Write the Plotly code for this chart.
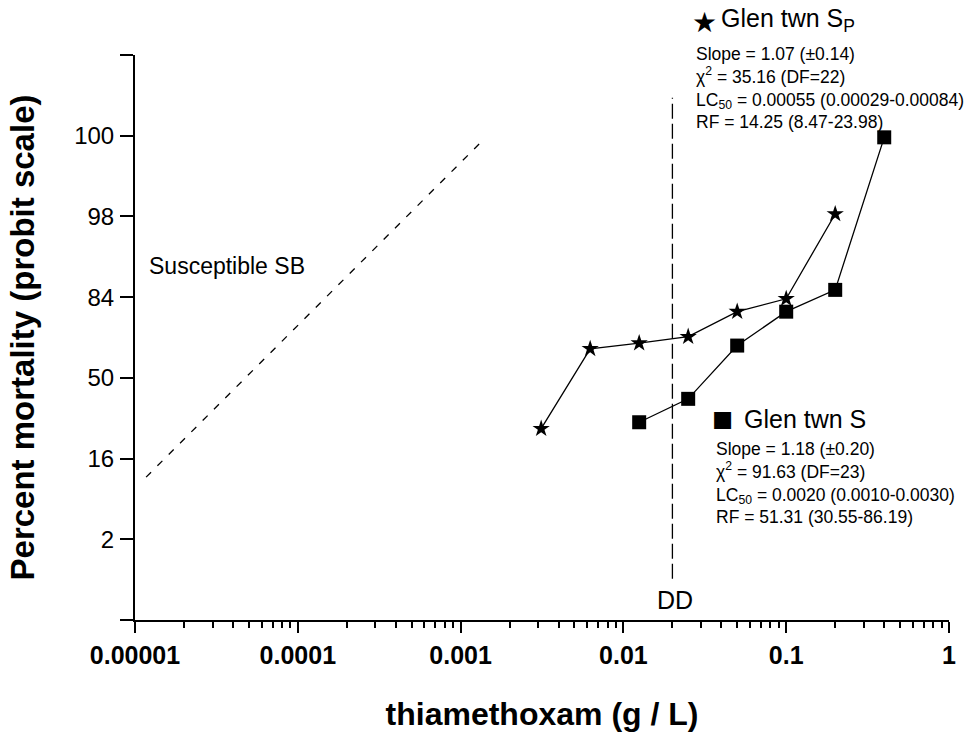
import plotly.graph_objects as go

# ---------------- data (probit units on y: 3=2%, 4=16%, 5=50%, 6=84%, 7=98%, 8=100%) -------------
sp_dose = [0.003125, 0.00625, 0.0125, 0.025, 0.05, 0.1, 0.2]
sp_probit = [4.37, 5.36, 5.43, 5.51, 5.82, 5.98, 7.03]

s_dose = [0.0125, 0.025, 0.05, 0.1, 0.2, 0.4]
s_probit = [4.45, 4.74, 5.40, 5.82, 6.09, 7.98]

sb_dose = [1.17e-5, 0.00135]
sb_probit = [3.77, 7.93]

dd_dose = [0.02, 0.02]
dd_probit = [2.51, 8.47]

y_tickvals = [2, 3, 4, 5, 6, 7, 8, 9]
y_ticktext = ["", "2", "16", "50", "84", "98", "100", ""]

x_tickvals = [1e-5, 1e-4, 1e-3, 1e-2, 1e-1, 1]
x_ticktext = ["0.00001", "0.0001", "0.001", "0.01", "0.1", "1"]
x_minor = [m * 10.0 ** e for e in range(-5, 0) for m in range(2, 10)]

FONT = "Liberation Sans, Arial, sans-serif"

# plot area in pixels
L, R, T, B = 135, 949, 55, 620
W, H = 977, 732


def px(xp):
    return (xp - L) / (R - L)


def py(yp):
    return (B - yp) / (B - T)


fig = go.Figure()

fig.add_trace(go.Scatter(x=sb_dose, y=sb_probit, mode="lines",
                         line=dict(color="black", width=1.3, dash="7px,9px"),
                         showlegend=False, hoverinfo="skip"))
fig.add_trace(go.Scatter(x=dd_dose, y=dd_probit, mode="lines",
                         line=dict(color="black", width=1.3, dash="15px,5px"),
                         showlegend=False, hoverinfo="skip"))
fig.add_trace(go.Scatter(x=sp_dose, y=sp_probit, mode="lines+markers", name="Glen twn SP",
                         line=dict(color="black", width=1.3),
                         marker=dict(symbol="star", size=13, color="black"),
                         showlegend=False))
fig.add_trace(go.Scatter(x=s_dose, y=s_probit, mode="lines+markers", name="Glen twn S",
                         line=dict(color="black", width=1.3),
                         marker=dict(symbol="square", size=14, color="black"),
                         showlegend=False))

annotations = [
    # top block
    dict(x=px(704), y=py(22), text="★", font=dict(size=28)),
    dict(x=px(719), y=py(38), text="Glen twn S<sub>P</sub>", xanchor="left", yanchor="bottom",
         font=dict(size=25)),
    dict(x=px(694), y=py(42), text="Slope = 1.07 (±0.14)<br>χ<sup>2</sup> = 35.16 (DF=22)<br>"
         "LC<sub>50</sub> = 0.00055 (0.00029-0.00084)<br>RF = 14.25 (8.47-23.98)",
         xanchor="left", yanchor="top", align="left", font=dict(size=17.5)),
    # bottom block
    dict(x=px(722), y=py(418), text="■", font=dict(size=35)),
    dict(x=px(742), y=py(419), text="Glen twn S", xanchor="left", yanchor="middle",
         font=dict(size=25)),
    dict(x=px(714), y=py(437), text="Slope = 1.18 (±0.20)<br>χ<sup>2</sup> = 91.63 (DF=23)<br>"
         "LC<sub>50</sub> = 0.0020 (0.0010-0.0030)<br>RF = 51.31 (30.55-86.19)",
         xanchor="left", yanchor="top", align="left", font=dict(size=17.5)),
    # labels
    dict(x=px(147), y=py(265.5), text="Susceptible SB", xanchor="left", font=dict(size=23)),
    dict(x=px(674.5), y=py(600), text="DD", font=dict(size=25)),
]
for a in annotations:
    a.setdefault("xanchor", "center")
    a.setdefault("yanchor", "middle")
    a["xref"] = "paper"
    a["yref"] = "paper"
    a["showarrow"] = False
    a["font"] = dict(family=FONT, color="black", **a["font"])
    fig.add_annotation(**a)

fig.update_layout(
    width=W, height=H,
    margin=dict(l=L, r=W - R, t=T, b=H - B, pad=0, autoexpand=False),
    paper_bgcolor="white", plot_bgcolor="white",
    font=dict(family=FONT, color="black"),
    showlegend=False,
)

fig.update_xaxes(
    type="log", range=[-5, 0], automargin=False,
    showgrid=False, zeroline=False,
    showline=True, linecolor="black", linewidth=2,
    tickmode="array", tickvals=x_tickvals, ticktext=x_ticktext,
    ticks="outside", ticklen=11, tickwidth=2, tickcolor="black",
    ticklabelstandoff=1,
    tickfont=dict(family=FONT, size=25, weight="bold", color="black"),
    minor=dict(tickmode="array", tickvals=x_minor, ticks="outside", ticklen=6,
               tickwidth=1.5, tickcolor="black", showgrid=False),
    title=dict(text="thiamethoxam (g / L)", standoff=36,
               font=dict(family=FONT, size=32, weight="bold", color="black")),
)

fig.update_yaxes(
    range=[2, 9], automargin=False,
    showgrid=False, zeroline=False,
    showline=True, linecolor="black", linewidth=2,
    tickmode="array", tickvals=y_tickvals, ticktext=y_ticktext,
    ticks="outside", ticklen=13, tickwidth=2, tickcolor="black",
    ticklabelstandoff=1,
    tickfont=dict(family=FONT, size=24, color="black"),
    title=dict(text="Percent mortality (probit scale)", standoff=30,
               font=dict(family=FONT, size=33, weight="bold", color="black")),
)

fig.write_html("out.html")
